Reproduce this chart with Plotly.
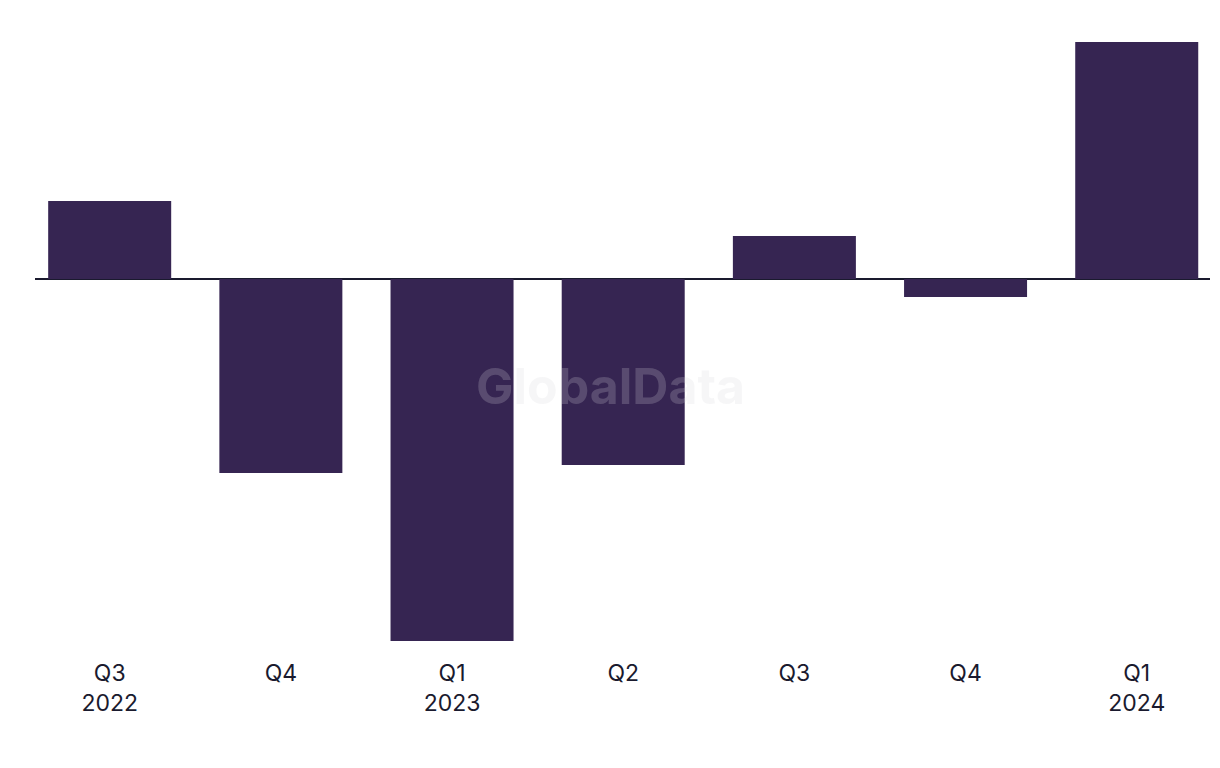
import plotly.graph_objects as go

categories = ["Q3<br>2022", "Q4", "Q1<br>2023", "Q2", "Q3", "Q4", "Q1<br>2024"]
values = [7.8, -19.4, -36.2, -18.6, 4.3, -1.8, 23.7]

W, H = 1220, 768
x_idx = list(range(len(categories)))

fig = go.Figure(go.Bar(
    x=x_idx, y=values, marker_color="#362552", marker_line_width=0,
    width=0.7186, hoverinfo="skip"))

fig.add_annotation(text="<b>GlobalData</b>", x=(610 - 35) / 1175, y=1 - (385 - 42) / (641 - 42),
                   xref="paper", yref="paper", xanchor="center",
                   showarrow=False, font=dict(family="Inter", size=50, color="rgba(215,215,220,0.22)"))

fig.update_layout(
    width=W, height=H, plot_bgcolor="white", paper_bgcolor="white",
    margin=dict(l=35, r=10, t=42, b=126), showlegend=False,
    font=dict(family="Inter", color="#1a1a2e"),
    xaxis=dict(tickmode="array", tickvals=x_idx, ticktext=categories,
               range=[-0.4363, 6.428], showgrid=False, zeroline=False, showline=False,
               ticks="", ticklabelstandoff=15, tickfont=dict(size=23, color="#1a1a2e")),
    yaxis=dict(range=[-36.3, 23.7], showgrid=False, showticklabels=False,
               zeroline=True, zerolinecolor="#1a1a2e", zerolinewidth=2, showline=False),
)
fig.write_html("out.html")
